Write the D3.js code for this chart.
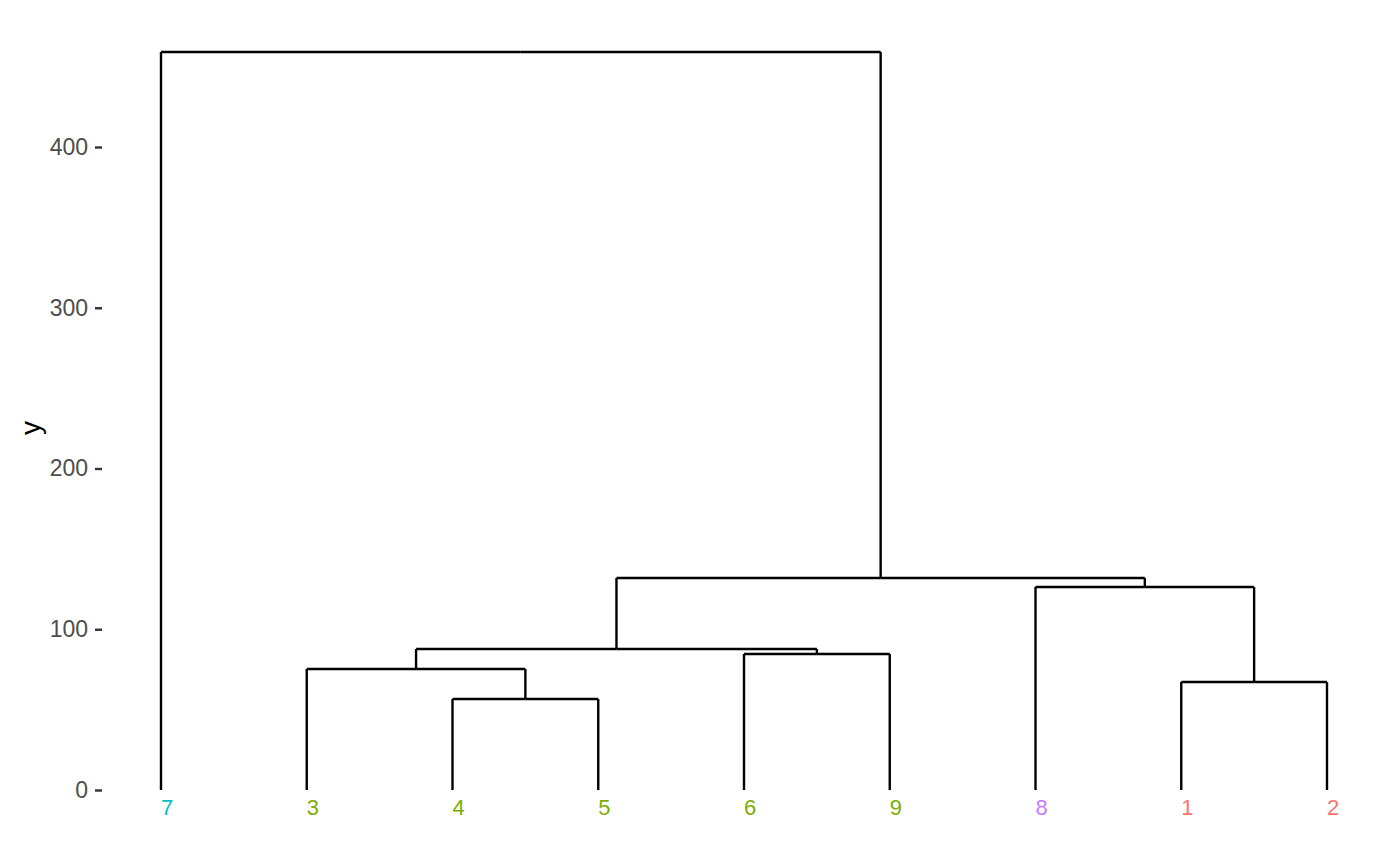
<!DOCTYPE html>
<html><head><meta charset="utf-8">
<script src="https://cdn.jsdelivr.net/npm/d3@7"></script>
<style>body{margin:0;background:#fff;} svg{display:block;}</style>
</head><body>
<svg id="chart" width="1400" height="866"></svg>
<script>
// Leaf order along the x axis
const leaves = ["7","3","4","5","6","9","8","1","2"];
const leafColors = ["#00BFC4","#7CAE00","#7CAE00","#7CAE00","#7CAE00","#7CAE00","#C77CFF","#F8766D","#F8766D"];
// hclust-style merges: negative = leaf label, positive = earlier merge (1-based)
const mergeLeft  = [-4, -3, -6, -1, 2, -8, 5, -7];
const mergeRight = [-5,  1, -9, -2, 3,  4, 6,  7];
const mergeHeight = [56.6, 75.3, 84.6, 67.2, 87.7, 126.3, 131.9, 459.1];
const yTicks = [0, 100, 200, 300, 400];

const svg = d3.select("#chart");
const x = d3.scalePoint().domain(leaves).range([161, 1327]);
const y = d3.scaleLinear().domain([0, 400]).range([790, 147]);

const nodeX = [], nodeH = [];
function pos(id){
  if (id < 0) return {x: x(String(-id)), h: 0};
  return {x: nodeX[id-1], h: nodeH[id-1]};
}
const segs = [];
mergeLeft.forEach((l, i) => {
  const a = pos(l), b = pos(mergeRight[i]), h = mergeHeight[i];
  const mid = (a.x + b.x) / 2;
  nodeX[i] = mid; nodeH[i] = h;
  segs.push([a.x, a.h, a.x, h], [a.x, h, mid, h], [b.x, b.h, b.x, h], [mid, h, b.x, h]);
});

svg.append("g").selectAll("line").data(segs).join("line")
  .attr("x1", d => d[0]).attr("x2", d => d[2])
  .attr("y1", d => y(d[1])).attr("y2", d => y(d[3]))
  .attr("stroke", "#000").attr("stroke-width", 2.4).attr("stroke-linecap", "butt");

// y axis
const ax = svg.append("g").attr("transform", "translate(102,0)")
  .call(d3.axisLeft(y).tickValues(yTicks).tickSize(7).tickPadding(7));
ax.select(".domain").remove();
ax.selectAll(".tick line").attr("stroke", "#333").attr("stroke-width", 2.4);
ax.selectAll(".tick text").attr("fill", "#4D4D4D")
  .style("font-family", "Liberation Sans, Arial, sans-serif").style("font-size", "23px");

svg.append("text").attr("transform", "translate(40,428) rotate(-90)")
  .attr("text-anchor", "middle")
  .style("font-family", "Liberation Sans, Arial, sans-serif").style("font-size", "28px")
  .attr("fill", "#000").text("y");

svg.append("g").selectAll("text").data(leaves).join("text")
  .attr("x", d => x(d) + 6).attr("y", 815)
  .attr("text-anchor", "middle")
  .attr("fill", (d, i) => leafColors[i])
  .style("font-family", "Liberation Sans, Arial, sans-serif").style("font-size", "22px")
  .text(d => d);
</script>
</body></html>
